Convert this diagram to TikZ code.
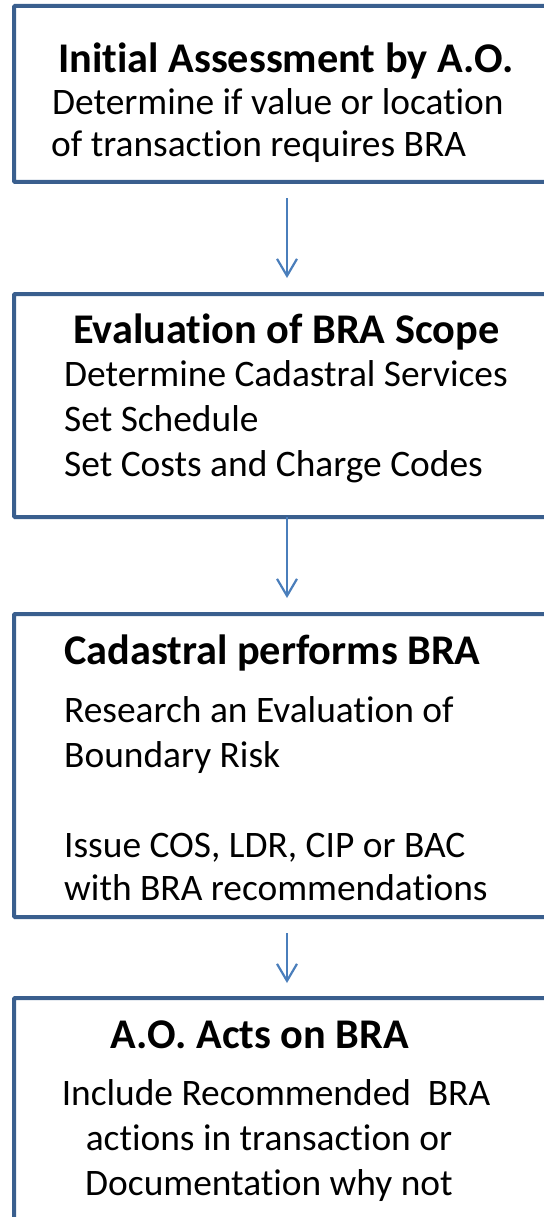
\documentclass[tikz,border=0pt]{standalone}
\usepackage{fontspec}
\setmainfont{Carlito}[Ligatures=NoCommon]
\usetikzlibrary{arrows.meta}
\definecolor{boxline}{HTML}{3A5F8E}
\definecolor{flowline}{HTML}{4A7EBB}
\tikzset{
  stage/.style={draw=boxline, line width=4pt, rounded corners=1pt, inner sep=0pt,
    outer sep=0pt, anchor=north west, minimum width=546pt},
  head/.style={font=\fontsize{42.3}{50}\selectfont\bfseries, inner sep=0pt},
  body/.style={font=\fontsize{37.4}{45}\selectfont, inner sep=0pt},
  flow/.style={draw=flowline, line width=2.2pt, -{Straight Barb[length=17pt,width=20pt]}},
}
\begin{document}
\begin{tikzpicture}[x=1pt,y=-1pt]
  \useasboundingbox (0,0) rectangle (543,1217);
  % the four stages, running off the right edge
  \node[stage, minimum height=176pt] (s1) at (14,6) {};
  \node[stage, minimum height=223pt] (s2) at (14,294) {};
  \node[stage, minimum height=303pt] (s3) at (14,614) {};
  \node[stage, minimum height=250pt] (s4) at (14,998) {};
  % stage 1
  \node[head, anchor=base west] (h1) at (58,73) {Initial Assessment by A.O.};
  \node[body, anchor=base west] (b1a) at (52,115) {Determine if value or location};
  \node[body, anchor=base west] (b1b) at (51,157) {of transaction requires BRA};
  % stage 2
  \node[head, anchor=base west] (h2) at (73,343) {Evaluation of BRA Scope};
  \node[body, anchor=base west] (b2a) at (64,386) {Determine Cadastral Services};
  \node[body, anchor=base west] (b2b) at (64,431) {Set Schedule};
  \node[body, anchor=base west] (b2c) at (64,476) {Set Costs and Charge Codes};
  % stage 3
  \node[head, anchor=base west] (h3) at (64,664) {Cadastral performs BRA};
  \node[body, anchor=base west] (b3a) at (64,722) {Research an Evaluation of};
  \node[body, anchor=base west] (b3b) at (64,767) {Boundary Risk};
  \node[body, anchor=base west] (b3c) at (64,857) {Issue COS, LDR, CIP or BAC};
  \node[body, anchor=base west] (b3d) at (64,900) {with BRA recommendations};
  % stage 4, centred
  \node[head, anchor=base] (h4) at (260,1048) {A.O. Acts on BRA};
  \node[body, anchor=base] (b4a) at (276,1105) {Include Recommended\ \ BRA};
  \node[body, anchor=base] (b4b) at (269,1150) {actions in transaction or};
  \node[body, anchor=base] (b4c) at (269,1195) {Documentation why not};
  % flow
  \draw[flow, shorten <=16pt, shorten >=16pt] (s1) -- (s2);
  \draw[flow, shorten >=16pt] (s2) -- (s3);
  \draw[flow, shorten <=16pt, shorten >=15pt] (s3) -- (s4);
\end{tikzpicture}
\end{document}
